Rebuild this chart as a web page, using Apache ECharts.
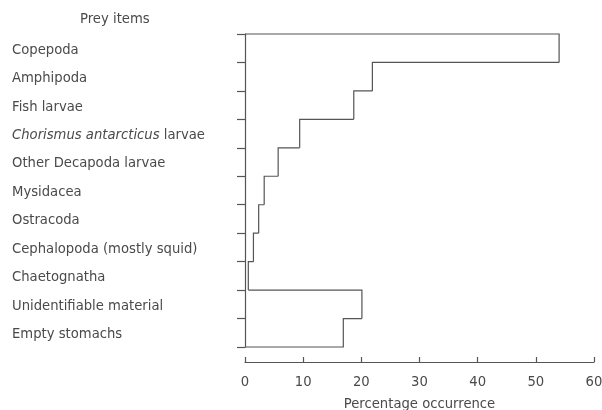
<!DOCTYPE html>
<html><head><meta charset="utf-8">
<script src="https://cdn.jsdelivr.net/npm/echarts@6/dist/echarts.min.js"></script>
<style>html,body{margin:0;padding:0;background:#fff}#c{width:602px;height:410px}</style>
</head><body><div id="c"></div>
<script>
const categories = ["Copepoda","Amphipoda","Fish larvae","Chorismus antarcticus larvae","Other Decapoda larvae","Mysidacea","Ostracoda","Cephalopoda (mostly squid)","Chaetognatha","Unidentifiable material","Empty stomachs"];
const italicParts = {"Chorismus antarcticus larvae": ["Chorismus antarcticus", " larvae"]};
const values = [54.0, 21.9, 18.7, 9.4, 5.7, 3.3, 2.35, 1.45, 0.57, 20.1, 16.9];
const xTicks = [0, 10, 20, 30, 40, 50, 60];

const FONT = "DejaVu Sans";
const FS = 13.2;
const TXT = "#4a4a4a";
const LINE = "#555";

const chart = echarts.init(document.getElementById('c'), null, {renderer: 'canvas'});
chart.setOption({
  animation: false,
  backgroundColor: '#fff',
  title: {text: 'Prey items', left: 75, top: 8, textStyle: {fontFamily: FONT, fontSize: FS, fontWeight: 'normal', color: TXT}},
  grid: {left: 245, right: 8, top: 34, bottom: 63, outerBoundsMode: 'none', containLabel: false},
  xAxis: {
    type: 'value', min: xTicks[0], max: xTicks[xTicks.length-1], interval: 10, offset: 15,
    axisLine: {show: true, lineStyle: {color: LINE, width: 1.2}},
    axisTick: {show: true, inside: true, length: 5, lineStyle: {color: LINE, width: 1.2}},
    splitLine: {show: false},
    axisLabel: {fontFamily: FONT, fontSize: FS, color: TXT, margin: 14},
    name: 'Percentage occurrence', nameLocation: 'middle', nameGap: 36,
    nameTextStyle: {fontFamily: FONT, fontSize: FS, color: TXT}
  },
  yAxis: {
    type: 'category', data: categories, inverse: true, boundaryGap: true,
    axisLine: {show: true, lineStyle: {color: LINE, width: 1.2}},
    axisTick: {show: true, length: 8, lineStyle: {color: LINE, width: 1.2}},
    splitLine: {show: false},
    axisLabel: {
      align: 'left', margin: 233, fontFamily: FONT, fontSize: FS, color: TXT, padding: [4, 0, 0, 0],
      formatter: function (v) {
        if (italicParts[v]) return '{i|' + italicParts[v][0] + '}' + italicParts[v][1];
        return v;
      },
      rich: {i: {fontStyle: 'italic', fontFamily: FONT, fontSize: FS, color: TXT}}
    }
  },
  series: [{
    type: 'custom',
    encode: {x: 0, y: 1},
    data: values.map((v, i) => [v, i]),
    renderItem: function (params, api) {
      const idx = params.dataIndex;
      const val = api.value(0);
      const cat = api.value(1);
      const c = api.coord([val, cat]);
      const h = api.size([0, 1])[1];
      const top = c[1] - h / 2, bottom = c[1] + h / 2;
      const prev = idx > 0 ? values[idx - 1] : 0;
      const px = api.coord([prev, cat])[0];
      const pts = [[px, top], [c[0], top], [c[0], bottom]];
      if (idx === values.length - 1) pts.push([api.coord([0, cat])[0], bottom]);
      return {type: 'polyline', shape: {points: pts}, style: {stroke: LINE, lineWidth: 1.2, fill: null}};
    }
  }]
});
</script></body></html>
